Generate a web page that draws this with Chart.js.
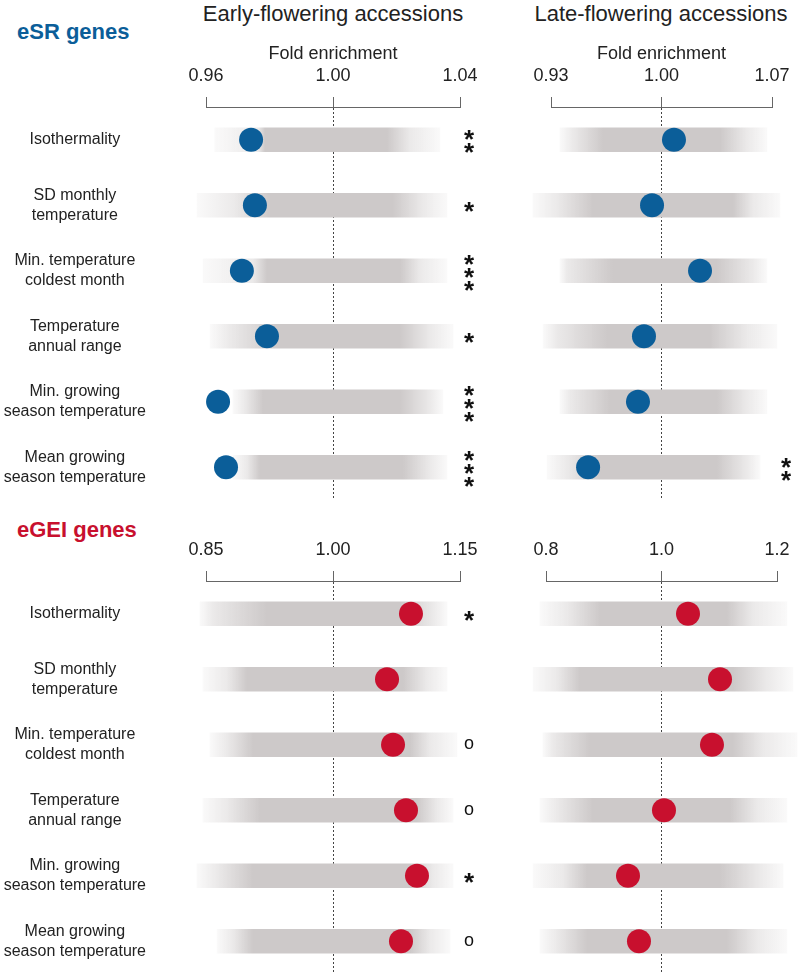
<!DOCTYPE html>
<html>
<head>
<meta charset="utf-8">
<title>Fold enrichment of eSR and eGEI genes</title>
<script src="https://cdn.jsdelivr.net/npm/chart.js@4.4.0/dist/chart.umd.min.js"></script>
<style>
  body { margin: 0; background: #fff; font-family: "Liberation Sans", Arial, sans-serif; }
  #wrap { position: relative; width: 800px; height: 976px; }
  canvas { position: absolute; }
  .group { position: absolute; left: 17px; font-size: 22px; line-height: 26px; font-weight: bold; }
  .title { position: absolute; top: 1px; width: 320px; text-align: center; font-size: 22px; line-height: 26px; color: #222; }
</style>
</head>
<body>
<div id="wrap">
  <div class="group" style="top:19px;color:#0b5e99">eSR genes</div>
  <div class="group" style="top:517px;color:#c8102e">eGEI genes</div>
  <div class="title" style="left:173px">Early-flowering accessions</div>
  <div class="title" style="left:501px">Late-flowering accessions</div>
  <canvas id="tl" width="480" height="500" style="left:0;top:0"></canvas>
  <canvas id="tr" width="320" height="500" style="left:480px;top:0"></canvas>
  <canvas id="bl" width="480" height="476" style="left:0;top:500px"></canvas>
  <canvas id="br" width="320" height="476" style="left:480px;top:500px"></canvas>
</div>
<script>
const rowLabels = ['Isothermality', ['SD monthly', 'temperature'], ['Min. temperature', 'coldest month'],
  ['Temperature', 'annual range'], ['Min. growing', 'season temperature'], ['Mean growing', 'season temperature']];

// eSR genes, early-flowering accessions
const tlTicks = [0.96, 1.00, 1.04];
const tlTickLabels = ['0.96', '1.00', '1.04'];
const tlObserved = [0.9742, 0.9754, 0.9713, 0.9792, 0.9638, 0.9663];
const tlSparse = [[0.9628, 1.0337], [0.9572, 1.0359], [0.9591, 1.0359], [0.9613, 1.0378], [0.9685, 1.0346], [0.9685, 1.0359]];
const tlDense = [[0.9764, 1.0243], [0.9691, 1.0283], [0.9748, 1.0274], [0.9676, 1.0306], [0.9723, 1.0306], [0.9729, 1.0306]];
const tlCore = [[0.9786, 1.0170], [0.9802, 1.0189], [0.9792, 1.0211], [0.9824, 1.0211], [0.9780, 1.0211], [0.9770, 1.0220]];
const tlSig = ['**', '*', '***', '*', '***', '***'];

// eSR genes, late-flowering accessions
const trTicks = [0.93, 1.00, 1.07];
const trTickLabels = ['0.93', '1.00', '1.07'];
const trObserved = [1.0079, 0.9940, 1.0244, 0.9889, 0.9851, 0.9535];
const trSparse = [[0.9357, 1.0668], [0.9186, 1.0750], [0.9357, 1.0668], [0.9250, 1.0731], [0.9357, 1.0668], [0.9275, 1.0624]];
const trDense = [[0.9440, 1.0541], [0.9338, 1.0579], [0.9402, 1.0579], [0.9338, 1.0541], [0.9421, 1.0541], [0.9402, 1.0541]];
const trCore = [[0.9630, 1.0370], [0.9566, 1.0453], [0.9693, 1.0351], [0.9655, 1.0307], [0.9674, 1.0351], [0.9611, 1.0351]];
const trSig = ['', '', '', '', '', '**'];

// eGEI genes, early-flowering accessions
const blTicks = [0.85, 1.00, 1.15];
const blTickLabels = ['0.85', '1.00', '1.15'];
const blObserved = [1.0921, 1.0638, 1.0709, 1.0862, 1.0992, 1.0803];
const blSparse = [[0.8429, 1.1346], [0.8465, 1.1346], [0.8547, 1.1465], [0.8465, 1.1417], [0.8394, 1.1417], [0.8630, 1.1382]];
const blDense = [[0.8583, 1.1181], [0.8748, 1.1110], [0.8748, 1.1146], [0.8748, 1.1228], [0.8630, 1.1181], [0.8819, 1.1146]];
const blCore = [[0.9220, 1.0791], [0.8984, 1.0827], [0.9055, 1.0909], [0.9138, 1.0992], [0.9055, 1.0909], [0.9055, 1.0909]];
const blSig = ['*', '', 'o', 'o', '*', 'o'];

// eGEI genes, late-flowering accessions
const brTicks = [0.8, 1.0, 1.2];
const brTickLabels = ['0.8', '1.0', '1.2'];
const brObserved = [1.0459, 1.1013, 1.0874, 1.0043, 0.9420, 0.9610];
const brSparse = [[0.7896, 1.2173], [0.7775, 1.2277], [0.7948, 1.2346], [0.7896, 1.2173], [0.7775, 1.2104], [0.7896, 1.2173]];
const brDense = [[0.8364, 1.1584], [0.8190, 1.1827], [0.8121, 1.1758], [0.8190, 1.1654], [0.8294, 1.1706], [0.8190, 1.1654]];
const brCore = [[0.8935, 1.1134], [0.8589, 1.1238], [0.8762, 1.1238], [0.8814, 1.1186], [0.8710, 1.1013], [0.8710, 1.1134]];
const brSig = ['', '', '', '', '', ''];

Chart.defaults.font.family = '"Liberation Sans", Arial, sans-serif';
Chart.defaults.color = '#222';

// significance marks to the right of each row
function sigMarks(marks, dx) {
  return {
    id: 'sig',
    afterDatasetsDraw(chart) {
      const ctx = chart.ctx;
      const y = chart.scales.y;
      const x = chart.chartArea.right + dx;
      ctx.save();
      ctx.fillStyle = '#111';
      ctx.textAlign = 'center';
      ctx.textBaseline = 'alphabetic';
      marks.forEach((m, i) => {
        if (!m) return;
        const cy = y.getPixelForValue(i);
        if (m === 'o') {
          ctx.font = '18px "Liberation Sans"';
          ctx.fillText('o', x, cy + 4.5);
        } else {
          ctx.font = 'bold 26px "Liberation Sans"';
          for (let k = 0; k < m.length; k++) {
            const yy = cy + (k - (m.length - 1) / 2) * 13;
            ctx.fillText('*', x, yy + 15);
          }
        }
      });
      ctx.restore();
    }
  };
}

// permutation cloud: solid core fading out through the dense and sparse tails
function cloudFill(o) {
  return c => {
    const xs = c.chart.scales.x;
    if (!xs || !c.chart.chartArea) return '#cdc9c9';
    const i = c.dataIndex;
    const a = xs.getPixelForValue(o.sparse[i][0]);
    const b = xs.getPixelForValue(o.sparse[i][1]);
    const f = v => Math.min(1, Math.max(0, (xs.getPixelForValue(v) - a) / (b - a)));
    const g = c.chart.ctx.createLinearGradient(a, 0, b, 0);
    g.addColorStop(0, 'rgba(205,201,201,0.10)');
    g.addColorStop(f(o.dense[i][0]), 'rgba(205,201,201,0.40)');
    g.addColorStop(f(o.core[i][0]), 'rgba(205,201,201,1)');
    g.addColorStop(f(o.core[i][1]), 'rgba(205,201,201,1)');
    g.addColorStop(f(o.dense[i][1]), 'rgba(205,201,201,0.40)');
    g.addColorStop(1, 'rgba(205,201,201,0.10)');
    return g;
  };
}

function panel(id, o) {
  new Chart(document.getElementById(id), {
    type: 'bar',
    data: {
      labels: rowLabels,
      datasets: [
        { type: 'line', indexAxis: 'y', data: o.observed, showLine: false, pointRadius: 12, pointHoverRadius: 12,
          pointBackgroundColor: o.color, pointBorderWidth: 0, clip: false, order: 0 },
        { indexAxis: 'y', data: o.sparse, backgroundColor: cloudFill(o), barThickness: 24, borderWidth: 0,
          grouped: false, clip: false, order: 1 }
      ]
    },
    options: {
      indexAxis: 'y',
      responsive: false,
      animation: false,
      events: [],
      layout: { padding: o.padding, autoPadding: false },
      plugins: {
        legend: { display: false },
        tooltip: { enabled: false }
      },
      scales: {
        x: {
          position: 'top',
          min: o.ticks[0],
          max: o.ticks[o.ticks.length - 1],
          afterBuildTicks: s => { s.ticks = o.ticks.map(v => ({ value: v })); },
          afterFit: s => { s.height = o.axisHeight; s.paddingLeft = 0; s.paddingRight = 0; },
          ticks: { callback: (v, i) => o.tickLabels[i], font: { size: 18 }, color: '#222', padding: 10, maxRotation: 0, autoSkip: false },
          grid: {
            color: c => (c.tick && Math.abs(c.tick.value - 1) < 1e-9) ? '#444' : 'rgba(0,0,0,0)',
            tickColor: '#666', tickLength: 10, lineWidth: 1, tickBorderDash: []
          },
          border: { color: '#666', dash: [2, 2] },
          title: { display: !!o.foldTitle, text: 'Fold enrichment', font: { size: 18 }, color: '#222', padding: { top: 7, bottom: 0 } }
        },
        y: {
          display: o.rowNames,
          offset: true,
          grid: { display: false, drawTicks: false },
          border: { display: false },
          afterFit: s => {
            if (o.rowNames) s.width = 206;
            s.paddingTop = 0; s.paddingBottom = 0;
          },
          ticks: { font: { size: 16, lineHeight: '20px' }, color: '#222', crossAlign: 'center', padding: 60 }
        }
      }
    },
    plugins: [sigMarks(o.sig, o.sigDx)]
  });
}

panel('tl', { ticks: tlTicks, tickLabels: tlTickLabels, observed: tlObserved, sparse: tlSparse, dense: tlDense, core: tlCore,
  sig: tlSig, sigDx: 9, color: '#0b5e99', foldTitle: true, rowNames: true,
  axisHeight: 71, padding: { left: 0, right: 20, top: 36, bottom: 0 } });
panel('tr', { ticks: trTicks, tickLabels: trTickLabels, observed: trObserved, sparse: trSparse, dense: trDense, core: trCore,
  sig: trSig, sigDx: 14, color: '#0b5e99', foldTitle: true, rowNames: false,
  axisHeight: 71, padding: { left: 71, right: 28, top: 36, bottom: 0 } });
panel('bl', { ticks: blTicks, tickLabels: blTickLabels, observed: blObserved, sparse: blSparse, dense: blDense, core: blCore,
  sig: blSig, sigDx: 9, color: '#c8102e', foldTitle: false, rowNames: true,
  axisHeight: 81, padding: { left: 0, right: 20, top: 0, bottom: 2 } });
panel('br', { ticks: brTicks, tickLabels: brTickLabels, observed: brObserved, sparse: brSparse, dense: brDense, core: brCore,
  sig: brSig, sigDx: 14, color: '#c8102e', foldTitle: false, rowNames: false,
  axisHeight: 81, padding: { left: 66, right: 23, top: 0, bottom: 2 } });
</script>
</body>
</html>
